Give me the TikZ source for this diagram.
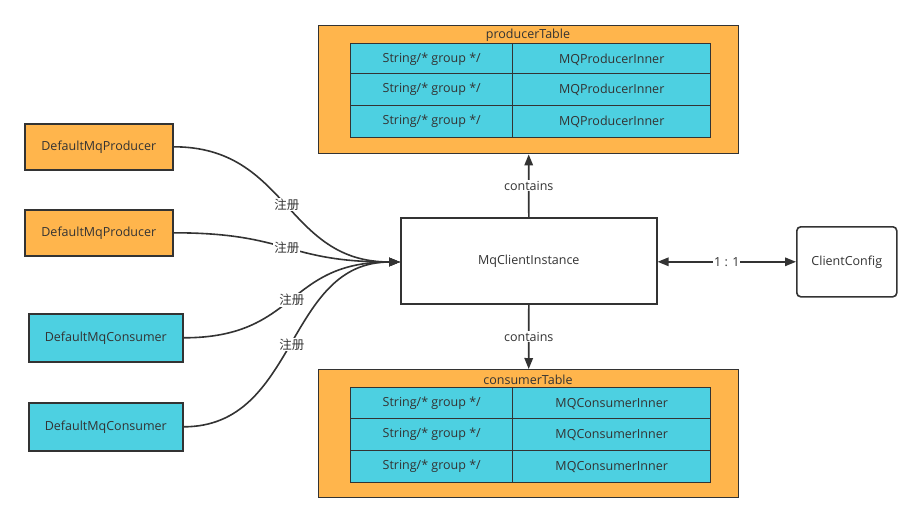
\documentclass[tikz,border=0pt]{standalone}
\usepackage{fontspec}
\setmainfont{Open Sans}
\newfontfamily\cjk{Noto Sans CJK SC}
\usetikzlibrary{arrows.meta}
\definecolor{borange}{HTML}{FFB54C}
\definecolor{bcyan}{HTML}{4DD0E1}
\definecolor{ink}{HTML}{333333}
\begin{document}
\begin{tikzpicture}[x=1pt,y=-1pt,
  every node/.style={font=\fontsize{12.5}{14}\selectfont, text=ink},
  box/.style={draw=ink, line width=1.6pt, inner sep=0pt, anchor=north west},
  outer/.style={box, fill=borange, line width=1.4pt},
  cell/.style={box, fill=bcyan, line width=1.4pt},
  lbl/.style={fill=white, inner sep=1pt},
  arr/.style={draw=ink, line width=1.6pt, -{Triangle[length=11pt,width=8.5pt]}},
]
\useasboundingbox (0,0) rectangle (921,522);

% producer table
\node[outer, minimum width=420pt, minimum height=128pt] (ptab) at (318,25) {};
\node at (528,35) {producerTable};
\foreach \i/\y in {1/43,2/73,3/105}{
  \node[cell, minimum width=162pt, minimum height=32pt] (pk\i) at (350,\y) {String/* group */};
  \node[cell, minimum width=198pt, minimum height=32pt] (pv\i) at (512,\y) {MQProducerInner};
}

% consumer table
\node[outer, minimum width=420pt, minimum height=128pt] (ctab) at (318,369) {};
\node at (528,380) {consumerTable};
\foreach \i/\y in {1/387,2/418,3/450}{
  \node[cell, minimum width=162pt, minimum height=32pt] (ck\i) at (350,\y) {String/* group */};
  \node[cell, minimum width=198pt, minimum height=32pt] (cv\i) at (512,\y) {MQConsumerInner};
}

% left boxes
\node[box, fill=borange, minimum width=148pt, minimum height=46pt] (p1) at (24,123) {DefaultMqProducer};
\node[box, fill=borange, minimum width=148pt, minimum height=46pt] (p2) at (24,209) {DefaultMqProducer};
\node[box, fill=bcyan, minimum width=154pt, minimum height=48pt] (c1) at (28,313) {DefaultMqConsumer};
\node[box, fill=bcyan, minimum width=154pt, minimum height=48pt] (c2) at (28,402) {DefaultMqConsumer};

% center
\node[box, fill=white, minimum width=256pt, minimum height=86pt] (mci) at (400,217) {MqClientInstance};
\node[box, fill=white, rounded corners=4pt, minimum width=100pt, minimum height=70pt] (cc) at (796,226) {ClientConfig};
\coordinate (tgt) at (400,262);

% curves
\foreach \s in {p1,p2,c1,c2}{
  \draw[arr] (\s.east) .. controls +(115,0) and +(-115,0) .. (tgt)
    node[lbl, pos=0.5] {\cjk 注册};
}

% contains
\draw[arr] (mci.north) -- (ptab.south) node[lbl, midway] {contains};
\draw[arr] (mci.south) -- (ctab.north) node[lbl, midway] {contains};

% 1:1
\draw[arr, {Triangle[length=11pt,width=8.5pt]}-{Triangle[length=11pt,width=8.5pt]}] (mci.east |- cc.west) -- (cc.west) node[lbl, midway, inner sep=1pt] {1 : 1};
\end{tikzpicture}
\end{document}
